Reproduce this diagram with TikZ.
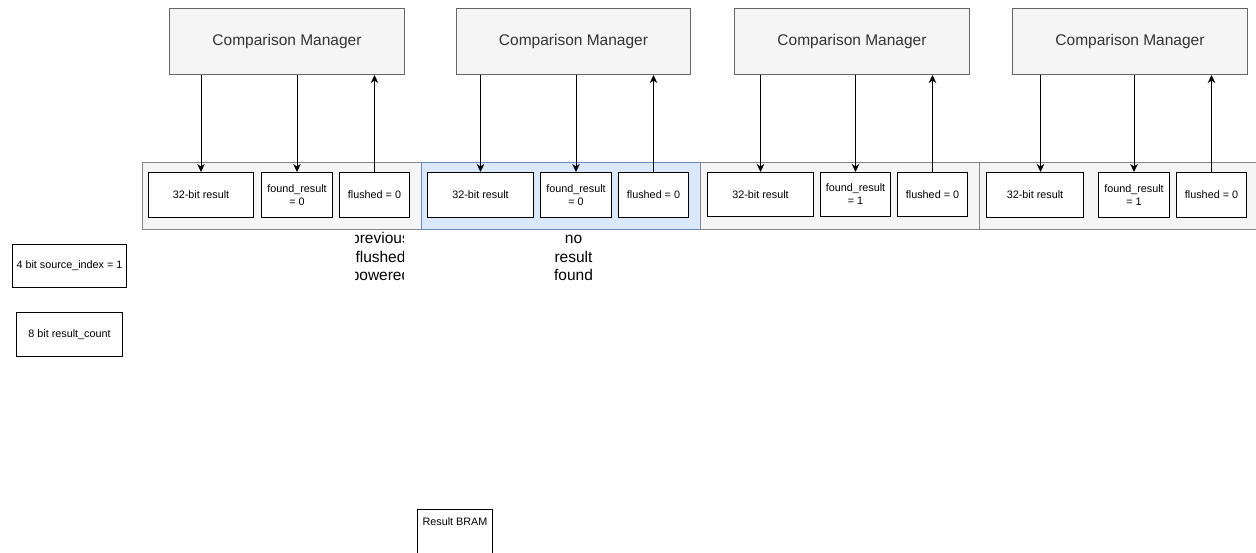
\documentclass[tikz,border=0pt]{standalone}
\usepackage{fontspec}
\setmainfont{Liberation Sans}
\usetikzlibrary{arrows.meta}
\definecolor{gfill}{HTML}{F5F5F5}
\definecolor{gline}{HTML}{666666}
\definecolor{gtext}{HTML}{333333}
\definecolor{bfill}{HTML}{DAE8FC}
\definecolor{bline}{HTML}{6C8EBF}
\tikzset{
  cmbox/.style={draw=gline, fill=gfill, line width=1pt, text=gtext, anchor=north west, inner sep=0pt,
    minimum height=66pt, font=\fontsize{15.5}{18.6}\selectfont},
  contbox/.style={draw=gline!80, fill=gfill, line width=1pt, anchor=north west, inner sep=0pt, minimum height=67pt},
  bluebox/.style={draw=bline, fill=bfill, line width=1pt, anchor=north west, inner sep=0pt, minimum height=67pt},
  inbox/.style={draw=black, fill=white, line width=1pt, anchor=north west, inner sep=0pt, minimum height=45pt,
    align=center, font=\fontsize{10.8}{13}\selectfont},
  plainbox/.style={draw=black, fill=white, line width=1pt, anchor=north west, inner sep=0pt,
    align=center, font=\fontsize{10.8}{13}\selectfont},
  bigtext/.style={align=center, inner sep=0pt, font=\fontsize{15.5}{18.4}\selectfont},
  arr/.style={-{Stealth[length=8pt,width=7.5pt,inset=2.5pt]}, line width=1pt, black},
}
\begin{document}
\begin{tikzpicture}[x=1pt, y=-1pt]
\useasboundingbox (0,0) rectangle (1256,552);
\clip (0,0) rectangle (1256,552);
\fill[white] (0,0) rectangle (1256,552);

% containers
\node[contbox, minimum width=279pt] (c1) at (142,162) {};
\node[bluebox, minimum width=279pt] (c2) at (421,162) {};
\node[contbox, minimum width=279pt] (c3) at (700,162) {};
\node[contbox, minimum width=279pt] (c4) at (979,162) {};

% inner boxes
\node[inbox, minimum width=105pt] (r1) at (148,172) {32-bit result};
\node[inbox, minimum width=71pt] (f1) at (261,172) {found\_result\\= 0};
\node[inbox, minimum width=70pt] (l1) at (339,172) {flushed = 0};

\node[inbox, minimum width=106pt] (r2) at (427,172) {32-bit result};
\node[inbox, minimum width=71pt] (f2) at (540,172) {found\_result\\= 0};
\node[inbox, minimum width=70pt] (l2) at (618,172) {flushed = 0};

\node[inbox, minimum width=106pt, minimum height=44pt] (r3) at (707,172) {32-bit result};
\node[inbox, minimum width=70pt, minimum height=44pt] (f3) at (820,172) {found\_result\\= 1};
\node[inbox, minimum width=70pt, minimum height=44pt] (l3) at (897,172) {flushed = 0};

\node[inbox, minimum width=97pt] (r4) at (986,172) {32-bit result};
\node[inbox, minimum width=71pt] (f4) at (1098,172) {found\_result\\= 1};
\node[inbox, minimum width=70pt] (l4) at (1176,172) {flushed = 0};

% comparison managers
\node[cmbox, minimum width=235pt] (cm1) at (169,8) {Comparison Manager};
\node[cmbox, minimum width=234pt] (cm2) at (456,8) {Comparison Manager};
\node[cmbox, minimum width=235pt] (cm3) at (734,8) {Comparison Manager};
\node[cmbox, minimum width=235pt] (cm4) at (1012,8) {Comparison Manager};

% arrows
\draw[arr] (r1.north |- cm1.south) -- (r1.north);
\draw[arr] (f1.north |- cm1.south) -- (f1.north);
\draw[arr] (l1.north) -- (l1.north |- cm1.south);
\draw[arr] (r2.north |- cm2.south) -- (r2.north);
\draw[arr] (f2.north |- cm2.south) -- (f2.north);
\draw[arr] (l2.north) -- (l2.north |- cm2.south);
\draw[arr] (r3.north |- cm3.south) -- (r3.north);
\draw[arr] (f3.north |- cm3.south) -- (f3.north);
\draw[arr] (l3.north) -- (l3.north |- cm3.south);
\draw[arr] ([xshift=5.5pt]r4.north |- cm4.south) -- ([xshift=5.5pt]r4.north);
\draw[arr] (f4.north |- cm4.south) -- (f4.north);
\draw[arr] (l4.north) -- (l4.north |- cm4.south);

% labels under containers
\begin{scope}
\clip (355,230) rectangle (403,295);
\node[bigtext] (t1) at (380.5,258) {previous\\flushed\\powered};
\end{scope}
\node[bigtext] (t2) at (573.5,258) {no\\result\\found};

% left boxes
\node[plainbox, minimum width=114pt, minimum height=43pt] (s1) at (12,244) {4 bit source\_index = 1};
\node[plainbox, minimum width=106pt, minimum height=44pt] (s2) at (16,312) {8 bit result\_count};

% result BRAM
\node[plainbox, minimum width=75pt, minimum height=90pt] (bram) at (417,509) {};
\node[inner sep=0pt, font=\fontsize{10.8}{13}\selectfont] (bramt) at (bram.north |- 0,522) {Result BRAM};
\end{tikzpicture}
\end{document}
